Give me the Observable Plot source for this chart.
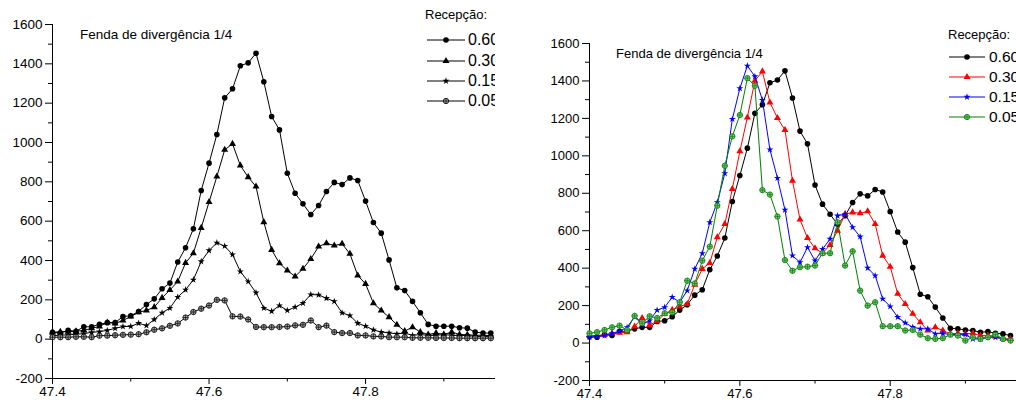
<!DOCTYPE html>
<html><head><meta charset="utf-8">
<script src="https://cdn.jsdelivr.net/npm/d3@7"></script>
<script src="https://cdn.jsdelivr.net/npm/@observablehq/plot@0.6"></script>
<style>
html,body{margin:0;padding:0;background:#fff;overflow:hidden;}
#wrap{position:relative;width:1016px;height:403px;font-family:"Liberation Sans",Arial,sans-serif;color:#000;}
.panel{position:absolute;top:0;height:403px;overflow:hidden;}
.panel svg.plot{position:absolute;left:0;top:0;}
.txt{position:absolute;white-space:nowrap;}
.sw{position:absolute;overflow:visible;}
</style></head><body><div id="wrap"></div>
<script>
// 2-theta positions (degrees)
const theta = [47.40,47.41,47.42,47.43,47.44,47.45,47.46,47.47,47.48,47.49,
  47.50,47.51,47.52,47.53,47.54,47.55,47.56,47.57,47.58,47.59,
  47.60,47.61,47.62,47.63,47.64,47.65,47.66,47.67,47.68,47.69,
  47.70,47.71,47.72,47.73,47.74,47.75,47.76,47.77,47.78,47.79,
  47.80,47.81,47.82,47.83,47.84,47.85,47.86,47.87,47.88,47.89,
  47.90,47.91,47.92,47.93,47.94,47.95,47.96];

const receptionLabels = ["0.60", "0.30", "0.15", "0.05"];
const titleText = "Fenda de divergência 1/4";
const legendTitle = "Recepção:";

// Left panel (raw intensities)
const left060 = [35,31,45,40,63,63,76,84,84,115,
  119,141,176,205,256,285,392,465,561,756,
  895,1041,1227,1273,1390,1405,1454,1309,1132,1064,
  844,742,688,634,680,751,797,786,820,807,
  702,593,539,403,261,247,192,134,75,66,
  66,66,58,56,36,31,31];
const left030 = [35,38,38,40,45,55,65,85,80,95,
  115,137,146,163,210,250,293,388,437,566,
  697,827,963,993,883,824,776,595,454,386,
  349,319,358,408,471,488,476,485,434,324,
  281,183,146,112,73,41,61,36,24,31,
  24,36,24,22,20,20,18];
const left015 = [18,20,22,25,28,35,38,45,55,64,
  65,81,69,100,134,158,214,251,302,395,
  451,490,473,430,344,293,236,158,142,171,
  146,163,183,227,225,208,192,134,120,81,
  66,47,36,32,27,31,19,24,19,19,
  24,19,19,19,14,14,14];
const left005 = [10,10,10,12,12,10,18,18,20,22,
  23,25,35,48,55,68,80,110,138,155,
  171,200,197,116,115,100,62,61,61,62,
  64,70,73,95,61,69,36,31,31,19,
  19,14,14,10,10,10,7,7,7,6,
  6,6,5,5,5,5,5];

// Right panel (normalised)
const right060 = [35,31,45,40,63,63,76,84,84,115,
  119,141,176,205,256,285,392,465,561,756,
  895,1041,1227,1273,1390,1405,1454,1309,1132,1064,
  844,742,688,634,680,751,797,786,820,807,
  702,593,539,403,261,247,192,134,79,76,
  70,67,58,61,52,49,40];
const right030 = [40,40,45,52,55,58,88,134,97,116,
  156,177,195,209,312,396,428,565,636,823,
  1024,1205,1401,1451,1285,1202,1138,867,660,561,
  506,480,524,600,689,698,693,704,636,467,
  408,263,209,156,111,67,84,67,49,52,
  49,52,40,40,35,22,22];
const right015 = [31,35,40,52,63,84,140,100,120,176,
  191,245,218,280,396,479,645,752,906,1196,
  1360,1481,1424,1298,1033,881,711,467,431,511,
  440,502,556,680,689,618,568,401,360,236,
  195,138,108,85,76,76,49,52,45,45,
  45,22,22,31,31,22,17];
const right005 = [52,58,70,84,93,70,145,106,143,134,
  159,164,218,333,318,440,515,734,947,1104,
  1218,1415,1374,817,793,676,443,386,405,408,
  414,480,480,645,414,490,280,200,218,90,
  90,90,67,70,45,26,22,26,45,40,
  13,31,22,31,45,22,13];

const xMajor = [47.4, 47.6, 47.8];
const xMinor = [47.5, 47.7, 47.9];
const yMajor = [-200, 0, 200, 400, 600, 800, 1000, 1200, 1400, 1600];
const yMinor = [-100, 100, 300, 500, 700, 900, 1100, 1300, 1500];

const symbols = ["circle", "triangle", "star", "oplus"];
const symbolR = {circle: 2.8, triangle: 2.6, star: 2.2, oplus: 2.7, plus: 1.9};

function seriesMarks(values, color, sym, oplusFill) {
  const data = values.map((v, i) => ({x: theta[i], y: v}));
  const m = [Plot.line(data, {x: "x", y: "y", stroke: color, strokeWidth: 1})];
  if (sym === "oplus") {
    m.push(Plot.dot(data, {x: "x", y: "y", symbol: "circle", r: symbolR.oplus, fill: oplusFill, stroke: color, strokeWidth: 0.8}));
    m.push(Plot.dot(data, {x: "x", y: "y", symbol: "plus", r: symbolR.plus, stroke: color, strokeWidth: 0.7}));
  } else {
    m.push(Plot.dot(data, {x: "x", y: "y", symbol: sym, r: symbolR[sym], fill: color, stroke: "none"}));
  }
  return m;
}

function makePanel(cfg) {
  const marks = [
    Plot.ruleX([cfg.xDomain[0]], {stroke: "#000"}),
    Plot.ruleY([-200], {stroke: "#000"}),
    Plot.axisY(yMajor, {tickSize: 7, tickPadding: 3, tickFormat: d => String(d), label: null}),
    Plot.axisY(yMinor, {tickSize: 4, tickFormat: () => "", label: null}),
    Plot.axisX(xMajor, {tickSize: 6, tickPadding: 2, tickFormat: d3.format(".1f"), label: null}),
    Plot.axisX(xMinor, {tickSize: 3.5, tickFormat: () => "", label: null})
  ];
  cfg.series.forEach((s, k) => marks.push(...seriesMarks(s, cfg.colors[k], symbols[k], cfg.oplusFill)));
  const svg = Plot.plot({
    width: cfg.width, height: 403,
    marginLeft: cfg.marginLeft, marginRight: 0, marginTop: cfg.marginTop, marginBottom: cfg.marginBottom,
    x: {domain: cfg.xDomain},
    y: {domain: [-200, 1600]},
    style: {fontFamily: "'Liberation Sans', Arial, sans-serif", fontSize: cfg.fs + "px", background: "transparent", color: "#000", overflow: "visible"},
    marks
  });
  const panel = d3.select("#wrap").append("div").attr("class", "panel")
    .style("left", cfg.left + "px").style("width", cfg.width + "px");
  panel.node().appendChild(svg);
  // title
  panel.append("div").attr("class", "txt").text(titleText)
    .style("left", (cfg.title.x - cfg.left) + "px").style("top", cfg.title.top + "px")
    .style("font-size", cfg.title.fs + "px").style("line-height", cfg.title.fs + "px");
  // legend (clipped at the panel's right edge, as in the original figure)
  panel.append("div").attr("class", "txt").text(legendTitle)
    .style("left", (cfg.head.x - cfg.left) + "px").style("top", cfg.head.top + "px")
    .style("font-size", "13px").style("line-height", "13px");
  cfg.rows.ys.forEach((y, k) => {
    const sw = panel.append("svg").attr("class", "sw")
      .attr("width", cfg.rows.len).attr("height", 12)
      .style("left", (cfg.rows.x - cfg.left) + "px").style("top", (y - 6) + "px");
    sw.append("line").attr("x1", 0).attr("x2", cfg.rows.len).attr("y1", 6).attr("y2", 6)
      .attr("stroke", cfg.colors[k]).attr("stroke-width", 1);
    const g = sw.append("g").attr("transform", `translate(${cfg.rows.len / 2},6)`);
    const sym = symbols[k];
    if (sym === "oplus") {
      g.append("path").attr("d", d3.symbol(d3.symbolCircle, Math.PI * symbolR.oplus ** 2)())
        .attr("fill", cfg.oplusFill).attr("stroke", cfg.colors[k]).attr("stroke-width", 0.8);
      g.append("path").attr("d", d3.symbol(d3.symbolPlus, Math.PI * symbolR.plus ** 2)())
        .attr("fill", "none").attr("stroke", cfg.colors[k]).attr("stroke-width", 0.7);
    } else {
      const t = {circle: d3.symbolCircle, triangle: d3.symbolTriangle, star: d3.symbolStar}[sym];
      g.append("path").attr("d", d3.symbol(t, Math.PI * symbolR[sym] ** 2)()).attr("fill", cfg.colors[k]);
    }
    panel.append("div").attr("class", "txt").text(receptionLabels[k])
      .style("left", (cfg.rows.textX - cfg.left) + "px").style("top", (y - cfg.rows.fs / 2) + "px")
      .style("font-size", cfg.rows.fs + "px").style("line-height", cfg.rows.fs + "px");
  });
}

makePanel({
  left: 0, width: 495, marginLeft: 52, marginTop: 24, marginBottom: 25,
  xDomain: [47.4, 47.966], fs: 13.5,
  series: [left060, left030, left015, left005],
  colors: ["#000", "#000", "#000", "#000"], oplusFill: "#aaa",
  title: {x: 80, top: 28, fs: 13.5},
  head: {x: 425, top: 8.3},
  rows: {x: 427, len: 38, ys: [39.5, 61, 81, 101], textX: 468, fs: 16}
});
makePanel({
  left: 530, width: 486, marginLeft: 59, marginTop: 43, marginBottom: 23,
  xDomain: [47.4, 47.968], fs: 13,
  series: [right060, right030, right015, right005],
  colors: ["#000", "#ff0000", "#0000ff", "#008000"], oplusFill: "#7fc47f",
  title: {x: 616, top: 46.7, fs: 13},
  head: {x: 948, top: 28},
  rows: {x: 949, len: 36, ys: [56.7, 76.7, 96.7, 116.7], textX: 989, fs: 15.5}
});
</script></body></html>
